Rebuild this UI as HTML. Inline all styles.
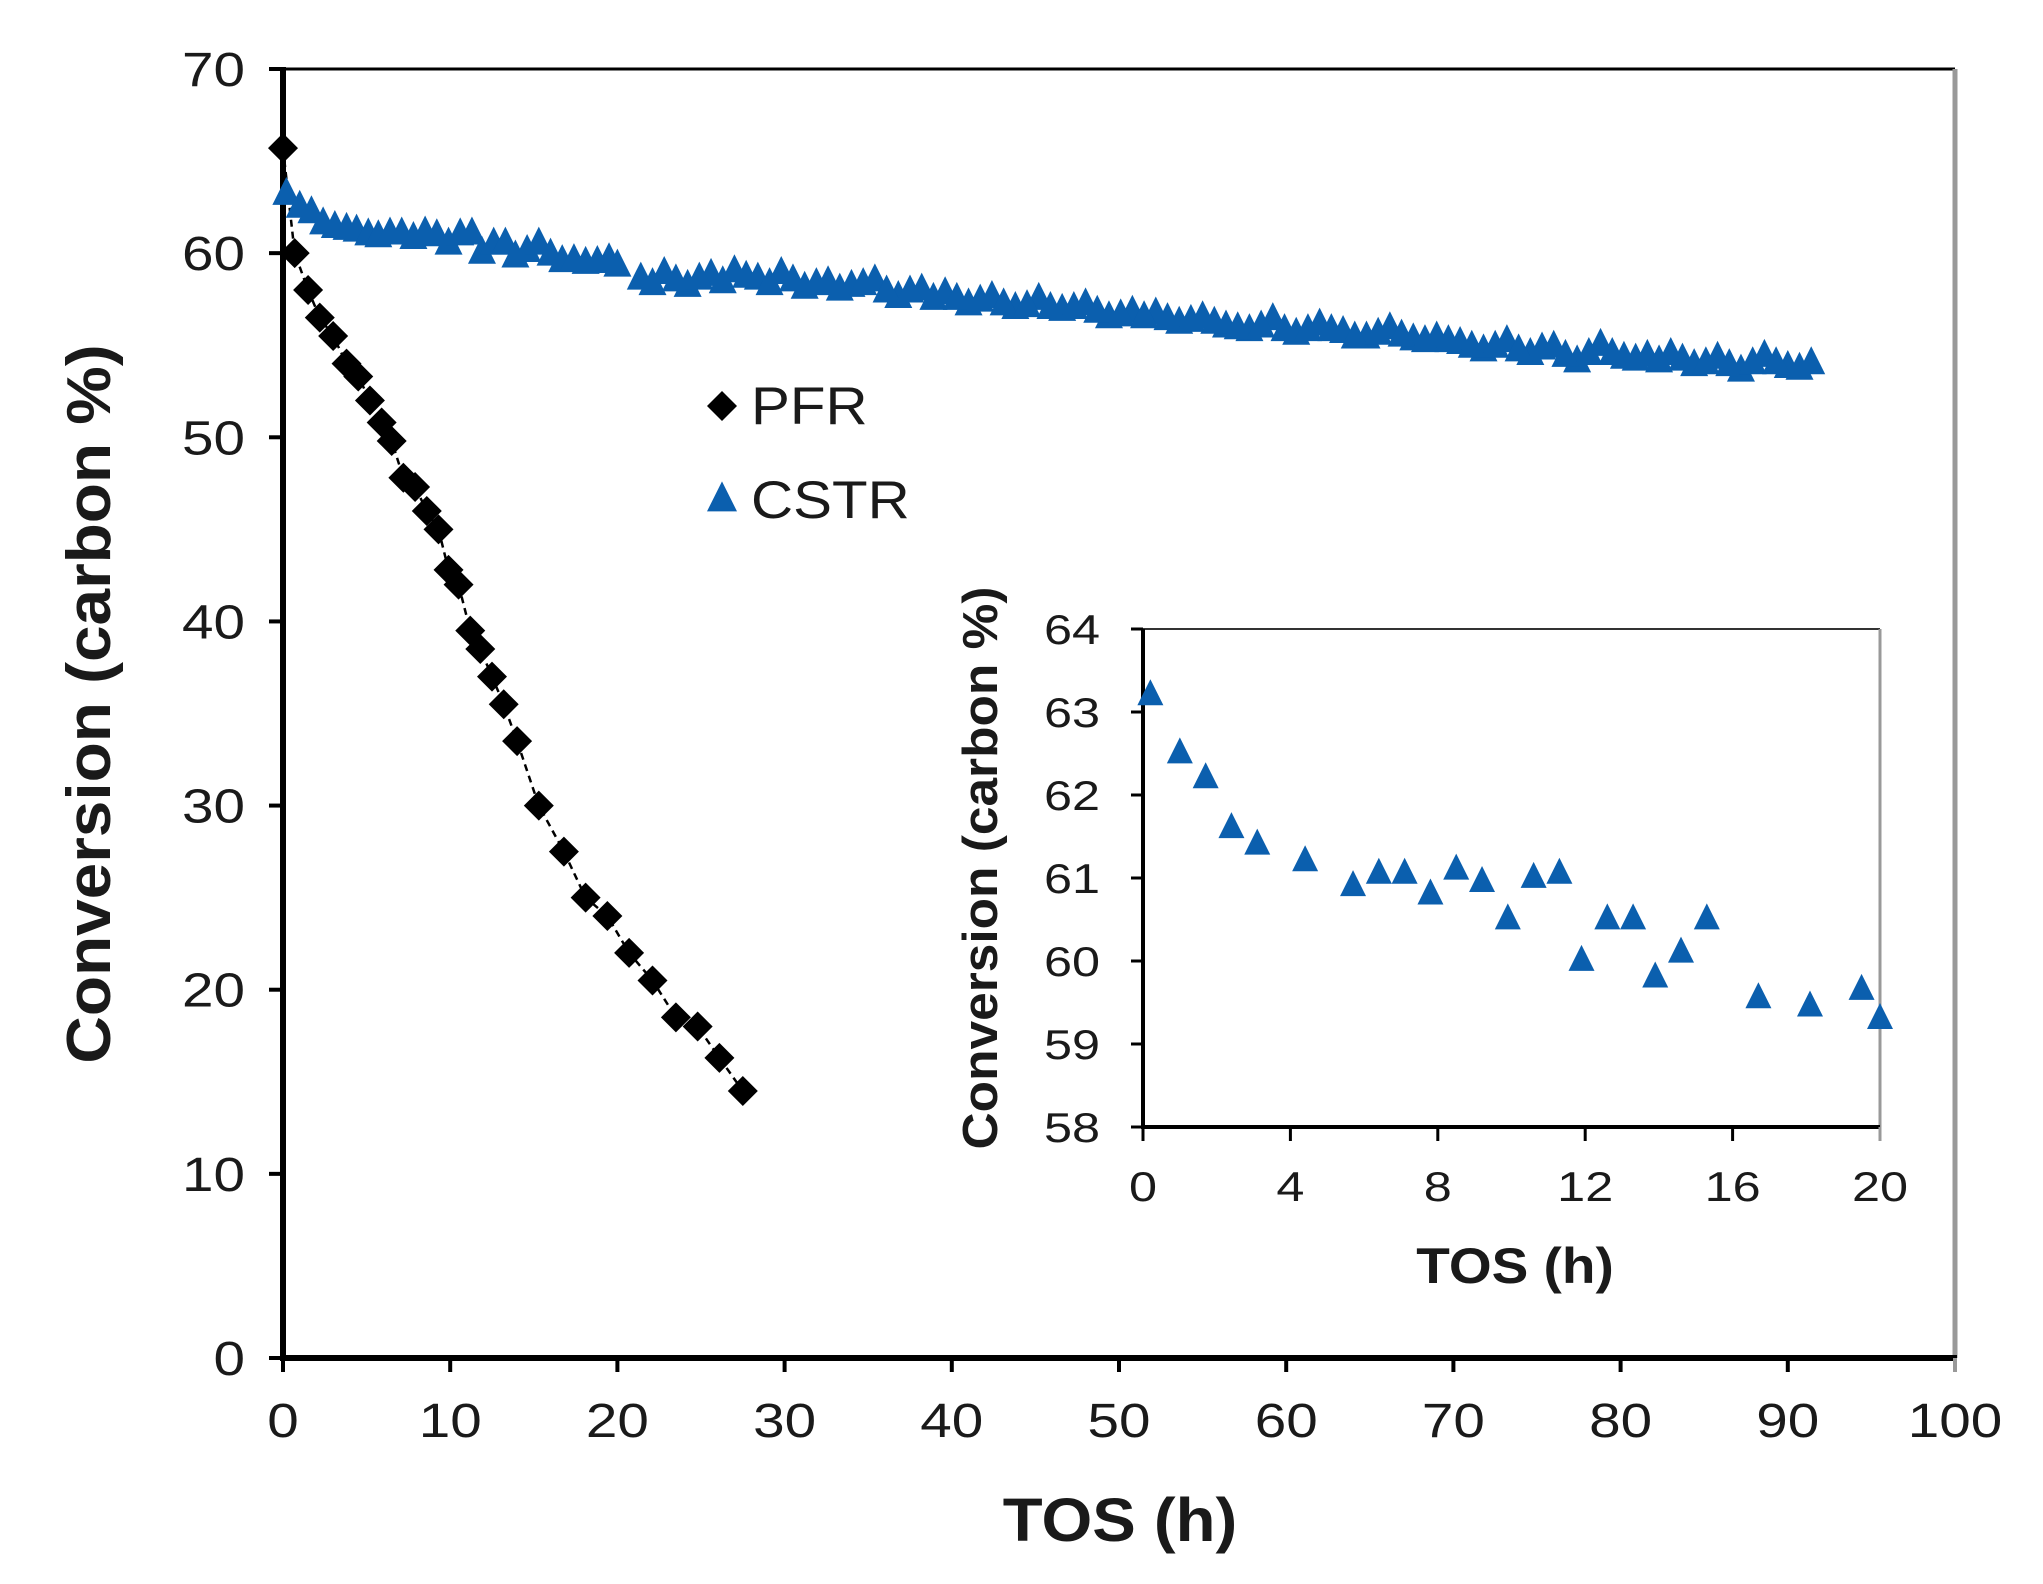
<!DOCTYPE html>
<html><head><meta charset="utf-8"><style>
html,body{margin:0;padding:0;background:#fff;}
svg{display:block;}
text{font-family:"Liberation Sans",Arial,sans-serif;fill:#1a1a1a;}
</style></head><body>
<svg id="chart" width="2043" height="1584" viewBox="0 0 2043 1584" xmlns="http://www.w3.org/2000/svg"></svg>
<script>
const xTicks=[0,10,20,30,40,50,60,70,80,90,100];
const yTicks=[0,10,20,30,40,50,60,70];
const insetXTicks=[0,4,8,12,16,20];
const insetYTicks=[58,59,60,61,62,63,64];
const pfrX=[0,0.7,1.5,2.2,3,3.8,4.5,5.2,5.9,6.5,7.2,7.9,8.6,9.3,9.9,10.5,11.2,11.8,12.5,13.2,14,15.3,16.8,18.1,19.4,20.7,22.1,23.5,24.8,26.1,27.5];
const pfrY=[65.7,60,58,56.5,55.5,54,53.3,52,50.8,49.8,47.8,47.3,46,45,42.8,42,39.5,38.5,37,35.5,33.5,30,27.5,25,24,22,20.5,18.5,18,16.3,14.5];
const insetX=[0.2,1,1.7,2.4,3.1,4.4,5.7,6.4,7.1,7.8,8.5,9.2,9.9,10.6,11.3,11.9,12.6,13.3,13.9,14.6,15.3,16.7,18.1,19.5,20];
const insetY=[63.2,62.5,62.2,61.6,61.4,61.2,60.9,61.05,61.05,60.8,61.1,60.95,60.5,61.0,61.05,60.0,60.5,60.5,59.8,60.1,60.5,59.55,59.45,59.65,59.3];
const cstrX=[0.2,1,1.7,2.4,3.1,3.8,4.4,5.1,5.7,6.4,7.1,7.8,8.5,9.2,9.9,10.6,11.3,11.9,12.6,13.3,13.9,14.6,15.3,16,16.7,17.4,18.1,18.8,19.5,20,21.4,22.8,24.2,25.6,27,28.4,29.8,31.2,32.6,34,35.4,36.8,38.2,39.6,41,42.4,43.8,45.2,46.6,48,49.4,50.8,52.2,53.6,55,56.4,57.8,59.2,60.6,62,63.4,64.8,66.2,67.6,69,70.4,71.8,73.2,74.6,76,77.4,78.8,80.2,81.6,83,84.4,85.8,87.2,88.6,90,91.4,
22.1,23.5,24.9,26.3,27.7,29.1,30.5,31.9,33.3,34.7,36.1,37.5,38.9,40.3,41.7,43.1,44.5,45.9,47.3,48.7,50.1,51.5,52.9,54.3,55.7,57.1,58.5,59.9,61.3,62.7,64.1,65.5,66.9,68.3,69.7,71.1,72.5,73.9,75.3,76.7,78.1,79.5,80.9,82.3,83.7,85.1,86.5,87.9,89.3,90.7];
const cstrY=[63.2,62.5,62.2,61.6,61.4,61.3,61.2,61.0,60.9,61.05,61.05,60.8,61.1,60.95,60.5,61.0,61.05,60.0,60.5,60.5,59.8,60.1,60.5,59.9,59.55,59.6,59.45,59.5,59.65,59.3,58.6,58.9,58.2,58.8,59.0,58.6,58.9,58.1,58.4,58.2,58.5,57.6,58.0,57.8,57.2,57.6,57.0,57.5,56.9,57.2,56.5,56.8,56.7,56.2,56.5,56.0,55.8,56.4,55.6,56.1,55.7,55.4,55.9,55.3,55.4,55.1,54.7,55.2,54.5,54.9,54.1,55.0,54.3,54.4,54.5,53.9,54.3,53.6,54.4,53.8,54.0,
58.3,58.5,58.6,58.4,58.7,58.3,58.5,58.3,58.0,58.3,57.9,57.9,57.5,57.5,57.4,57.2,57.1,57.0,57.0,56.8,56.6,56.5,56.4,56.3,56.2,55.9,56.0,55.8,55.8,55.8,55.4,55.6,55.5,55.2,55.2,54.9,54.9,54.7,54.8,54.4,54.5,54.5,54.2,54.1,54.2,54.0,53.9,54.0,54.0,53.7];

const NS="http://www.w3.org/2000/svg";
const svg=document.getElementById('chart');
function mk(tag,attrs,parent){const e=document.createElementNS(NS,tag);for(const k in attrs)e.setAttribute(k,attrs[k]);(parent||svg).appendChild(e);return e;}
function txt(x,y,s,size,anchor,stretch,bold,parent){
  const e=mk('text',{x:0,y:0,'text-anchor':anchor,'font-size':size,transform:`translate(${x},${y}) scale(${stretch},1)`},parent);
  if(bold)e.setAttribute('font-weight','bold');
  e.textContent=s;return e;
}
const X0=283,X1=1955,Y0=1358,Y1=69;
const sx=v=>X0+(v/100)*(X1-X0);
const sy=v=>Y0-(v/70)*(Y0-Y1);
const IX0=1143,IX1=1880,IY0=1127,IY1=629;
const isx=v=>IX0+(v/20)*(IX1-IX0);
const isy=v=>IY0-((v-58)/6)*(IY0-IY1);

let e;
e=mk('line',{x1:X0,y1:Y1,x2:X1,y2:Y1,stroke:'#000','stroke-width':3});


e=mk('line',{x1:X1,y1:Y1,x2:X1,y2:Y0,stroke:'#999','stroke-width':5});


e=mk('line',{x1:X0,y1:Y0,x2:X1+2,y2:Y0,stroke:'#000','stroke-width':6});


e=mk('line',{x1:X0,y1:Y1-2,x2:X0,y2:Y0+3,stroke:'#000','stroke-width':6});



xTicks.forEach(t=>{
  const x=sx(t);
  const tk=mk('line',{x1:x,y1:Y0,x2:x,y2:Y0+14,stroke:t===100?'#999':'#000','stroke-width':4});
  
  
  const tl=txt(x,1437,String(t),48,'middle',1.18,false);
  
  
});
yTicks.forEach(t=>{
  const y=sy(t);
  const tk=mk('line',{x1:X0-14,y1:y,x2:X0,y2:y,stroke:'#000','stroke-width':4});
  
  
  const tl=txt(245,y+17,String(t),48,'end',1.18,false);
  
  
});
e=txt(1120,1541,'TOS (h)',61,'middle',1.07,true);


e=mk('text',{x:0,y:0,'text-anchor':'middle','font-size':62,'font-weight':'bold',transform:'translate(110,704) rotate(-90) scale(1.06,1)'});
e.textContent='Conversion (carbon %)';



function tri(cx,cy,s,parent){return mk('polygon',{points:`${cx},${cy-s*0.62} ${cx-s/2},${cy+s*0.38} ${cx+s/2},${cy+s*0.38}`,fill:'#0b5fae'},parent);}
function dia(cx,cy,s,parent){return mk('polygon',{points:`${cx},${cy-s/2} ${cx+s/2},${cy} ${cx},${cy+s/2} ${cx-s/2},${cy}`,fill:'#000'},parent);}

const gP=mk('g',{});


const pl=mk('polyline',{points:pfrX.map((x,i)=>sx(x)+','+sy(pfrY[i])).join(' '),fill:'none',stroke:'#000','stroke-width':2.5,'stroke-dasharray':'7,5'},gP);


pfrX.forEach((x,i)=>{
  const m=dia(sx(x),sy(pfrY[i]),30,gP);
  
  
});
const gC=mk('g',{});


cstrX.forEach((x,i)=>{
  const m=tri(sx(x),sy(cstrY[i]),28,gC);
  
  
});

const gL=mk('g',{});


e=dia(722,406,30,gL);


e=txt(751,424,'PFR',53,'start',1.1,false,gL);


e=tri(722,500,30,gL);


e=txt(751,518,'CSTR',53,'start',1.1,false,gL);



const gI=mk('g',{});


e=mk('line',{x1:IX0,y1:IY1,x2:IX1,y2:IY1,stroke:'#333','stroke-width':2},gI);


e=mk('line',{x1:IX1,y1:IY1,x2:IX1,y2:IY0,stroke:'#999','stroke-width':3},gI);


e=mk('line',{x1:IX0,y1:IY0,x2:IX1,y2:IY0,stroke:'#000','stroke-width':4},gI);


e=mk('line',{x1:IX0,y1:IY1,x2:IX0,y2:IY0+2,stroke:'#000','stroke-width':4},gI);


insetXTicks.forEach(t=>{
  const x=isx(t);
  const tk=mk('line',{x1:x,y1:IY0,x2:x,y2:IY0+14,stroke:t===20?'#999':'#000','stroke-width':3},gI);
  
  
  const tl=txt(x,1201,String(t),42,'middle',1.2,false,gI);
  
  
});
insetYTicks.forEach(t=>{
  const y=isy(t);
  const tk=mk('line',{x1:IX0-12,y1:y,x2:IX0,y2:y,stroke:'#000','stroke-width':3},gI);
  
  
  const tl=txt(1100,y+15,String(t),42,'end',1.2,false,gI);
  
  
});
e=txt(1515,1283,'TOS (h)',50,'middle',1.1,true,gI);


e=mk('text',{x:0,y:0,'text-anchor':'middle','font-size':49,'font-weight':'bold',transform:'translate(997,868) rotate(-90) scale(1.05,1)'},gI);
e.textContent='Conversion (carbon %)';


insetX.forEach((x,i)=>{
  const m=tri(isx(x),isy(insetY[i]),26,gI);
  
  
});
</script>
</body></html>
